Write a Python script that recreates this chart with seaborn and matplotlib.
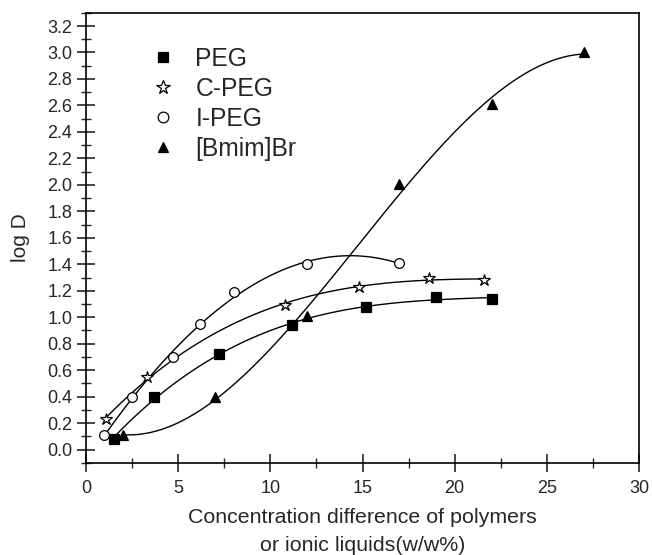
import numpy as np
import pandas as pd
import matplotlib
matplotlib.use("Agg")
import matplotlib.pyplot as plt
import seaborn as sns
from matplotlib.ticker import MultipleLocator

peg_x = [1.5, 3.7, 7.2, 11.2, 15.2, 19.0, 22.0]
peg_y = [0.08, 0.40, 0.72, 0.94, 1.08, 1.15, 1.14]
cpeg_x = [1.1, 3.3, 10.8, 14.8, 18.6, 21.6]
cpeg_y = [0.23, 0.55, 1.09, 1.23, 1.30, 1.28]
ipeg_x = [1.0, 2.5, 4.7, 6.2, 8.0, 12.0, 17.0]
ipeg_y = [0.11, 0.40, 0.70, 0.95, 1.19, 1.40, 1.41]
bmim_x = [2.0, 7.0, 12.0, 17.0, 22.0, 27.0]
bmim_y = [0.11, 0.40, 1.01, 2.01, 2.61, 3.00]

series = [
    ("PEG", peg_x, peg_y, "s", "black", 6.5),
    ("C-PEG", cpeg_x, cpeg_y, "*", "white", 9),
    ("I-PEG", ipeg_x, ipeg_y, "o", "white", 7),
    ("[Bmim]Br", bmim_x, bmim_y, "^", "black", 7),
]

sns.set_style("ticks")
plt.rcParams["font.family"] = ["Liberation Sans", "DejaVu Sans"]

fig = plt.figure(figsize=(6.52, 5.55), dpi=100)
ax = fig.add_axes([0.132, 0.166, 0.848, 0.811])

for name, xs, ys, m, fc, ms in series:
    coef = np.polyfit(xs, ys, 3)
    xf = np.linspace(min(xs), max(xs), 200)
    fit = pd.DataFrame({"x": xf, "y": np.polyval(coef, xf)})
    sns.lineplot(data=fit, x="x", y="y", ax=ax, color="black", lw=1.0, sort=False)
    ax.plot(xs, ys, linestyle="none", marker=m, markersize=ms, markerfacecolor=fc,
            markeredgecolor="black", markeredgewidth=0.9, label=name, zorder=5)

ax.set_xlim(0, 30)
ax.set_ylim(-0.1, 3.3)
ax.xaxis.set_major_locator(MultipleLocator(5))
ax.xaxis.set_minor_locator(MultipleLocator(2.5))
ax.yaxis.set_major_locator(MultipleLocator(0.2))
ax.yaxis.set_minor_locator(MultipleLocator(0.1))
ax.yaxis.set_major_formatter(matplotlib.ticker.FormatStrFormatter("%.1f"))
ax.tick_params(axis="both", which="major", direction="inout", length=13, width=1.2,
               labelsize=13, top=False, right=False)
ax.tick_params(axis="both", which="minor", direction="inout", length=6.5, width=1.0,
               top=False, right=False)
ax.tick_params(axis="x", which="major", pad=6)
for s in ax.spines.values():
    s.set_linewidth(1.2)
    s.set_color("black")

ax.set_xlabel("Concentration difference of polymers\nor ionic liquids(w/w%)", fontsize=15.4,
              linespacing=1.58, labelpad=8)
ax.set_ylabel("log D", fontsize=15, labelpad=12)

ax.legend(loc="upper left", bbox_to_anchor=(0.1175, 0.925), frameon=False, fontsize=17.7,
          handlelength=1.0, handletextpad=0.8, labelspacing=0.25, borderpad=0,
          borderaxespad=0, markerscale=1.1)

fig.savefig("out.png", dpi=100)
